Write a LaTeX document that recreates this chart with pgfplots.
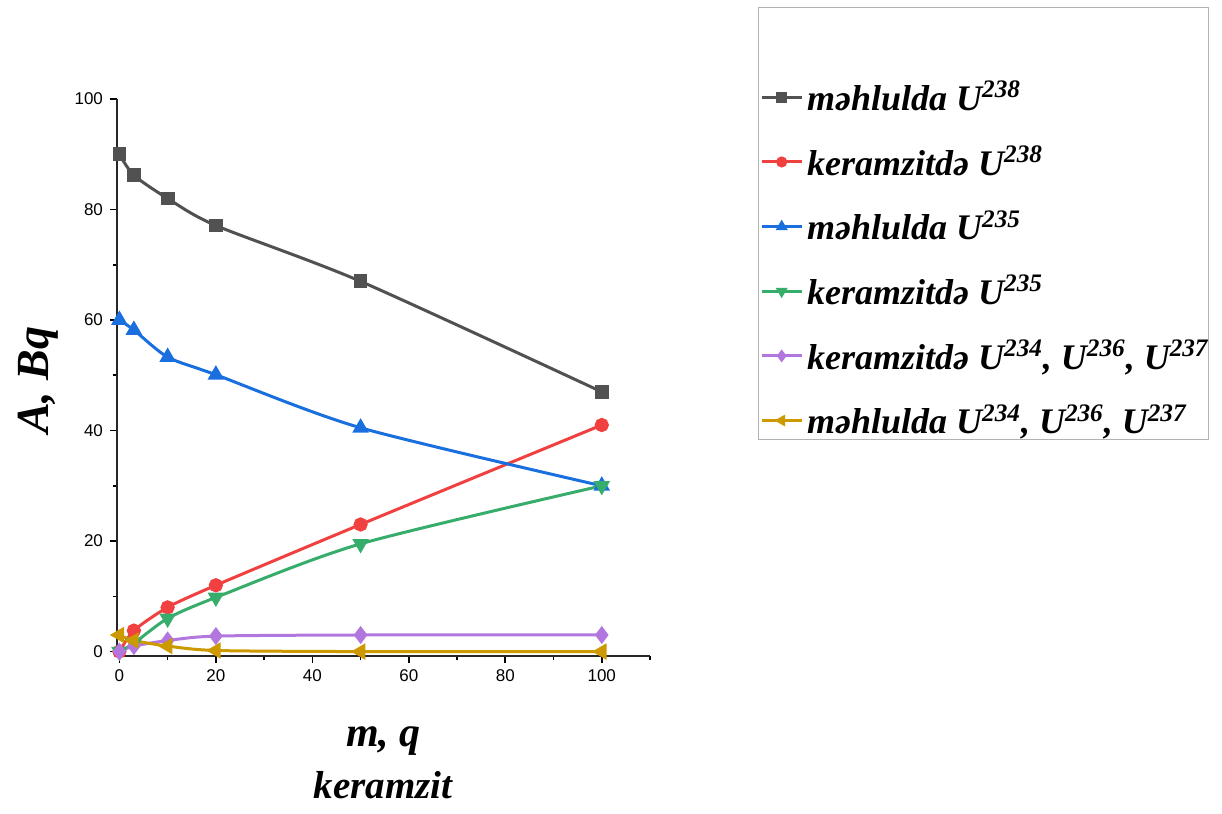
\documentclass[border=0pt]{standalone}
\usepackage{fontspec}
\setmainfont{Liberation Serif}
\setsansfont{Liberation Sans}
\usepackage{pgfplots}
\pgfplotsset{compat=1.18}
\definecolor{cBlack}{HTML}{515151}
\definecolor{cRed}{HTML}{F14040}
\definecolor{cBlue}{HTML}{1A6FDF}
\definecolor{cGreen}{HTML}{37AD6B}
\definecolor{cPurple}{HTML}{B177DE}
\definecolor{cGold}{HTML}{CC9900}
\newcommand{\lt}[1]{\textbf{\textit{#1}}}
\begin{document}
\begin{tikzpicture}
\begin{axis}[
  scale only axis,
  width=266.5pt, height=278.5pt,
  xmin=-0.5, xmax=110, ymin=-0.8, ymax=100,
  axis x line*=bottom, axis y line*=left,
  axis line style={line width=0.9pt, black!85},
  xtick={0,20,40,60,80,100}, ytick={0,20,40,60,80,100},
  minor xtick={10,30,50,70,90,110}, minor ytick={10,30,50,70,90},
  tick align=outside,
  major tick length=3.5pt, minor tick length=2.2pt,
  tick style={line width=0.8pt, black},
  /pgf/number format/assume math mode=true,
  tick label style={font=\sffamily\fontsize{8.5}{10}\selectfont},
  xlabel={{\fontsize{21}{22}\selectfont\lt{m, q}}\\[4pt]\lt{keramzit}},
  xlabel style={at={(axis description cs:0.5,-0.114)}, anchor=north, align=center, font=\fontsize{19.5}{22}\selectfont},
  ylabel={\lt{A, Bq}},
  ylabel style={at={(axis description cs:-0.147,0.495)}, anchor=center, font=\fontsize{23}{24}\selectfont},
  legend style={draw=none, fill=none, at={(1.206,1.04)}, anchor=north west,
    font=\fontsize{18}{20}\selectfont, inner sep=0pt, row sep=12.2pt,
    cells={anchor=west}},
  legend image code/.code={\draw[mark repeat=2,mark phase=2, mark size=2pt] plot coordinates {(0pt,0pt) (10pt,0pt) (20pt,0pt)};},
  every axis plot/.append style={line width=1.5pt, smooth, tension=0.45},
  clip=false,
]
\addplot[color=cBlack, mark=square*, mark size=2.7pt] coordinates {(0,90) (3,86.2) (10,82) (20,77.1) (50,67) (100,47)};
\addlegendentry{\lt{məhlulda U\textsuperscript{238}}}
\addplot[color=cRed, mark=*, mark size=2.8pt] coordinates {(0,0) (3,3.8) (10,8) (20,12) (50,23) (100,41)};
\addlegendentry{\lt{keramzitdə U\textsuperscript{238}}}
\addplot[color=cBlue, mark=triangle*, mark size=3.3pt] coordinates {(0,60) (3,58.2) (10,53.3) (20,50.1) (50,40.5) (100,30)};
\addlegendentry{\lt{məhlulda U\textsuperscript{235}}}
\addplot[color=cGreen, mark=triangle*, mark size=3.3pt, mark options={rotate=180}] coordinates {(0,0) (3,1.5) (10,6) (20,9.8) (50,19.5) (100,30)};
\addlegendentry{\lt{keramzitdə U\textsuperscript{235}}}
\addplot[color=cPurple, mark=diamond*, mark size=3.3pt] coordinates {(0,0) (3,1) (10,2) (20,2.8) (50,3) (100,3)};
\addlegendentry{\lt{keramzitdə U\textsuperscript{234}, U\textsuperscript{236}, U\textsuperscript{237}}}
\addplot[color=cGold, mark=triangle*, mark size=3.3pt, mark options={rotate=90}] coordinates {(0,3) (3,2) (10,1) (20,0.2) (50,0) (100,0)};
\addlegendentry{\lt{məhlulda U\textsuperscript{234}, U\textsuperscript{236}, U\textsuperscript{237}}}
\end{axis}
\draw[gray!60, line width=0.5pt] (320.5pt,108pt) rectangle (545.5pt,324pt);
\pgfresetboundingbox
\path[use as bounding box] (-58.5pt,-79pt) rectangle (552.5pt,328pt);
\end{tikzpicture}
\end{document}
